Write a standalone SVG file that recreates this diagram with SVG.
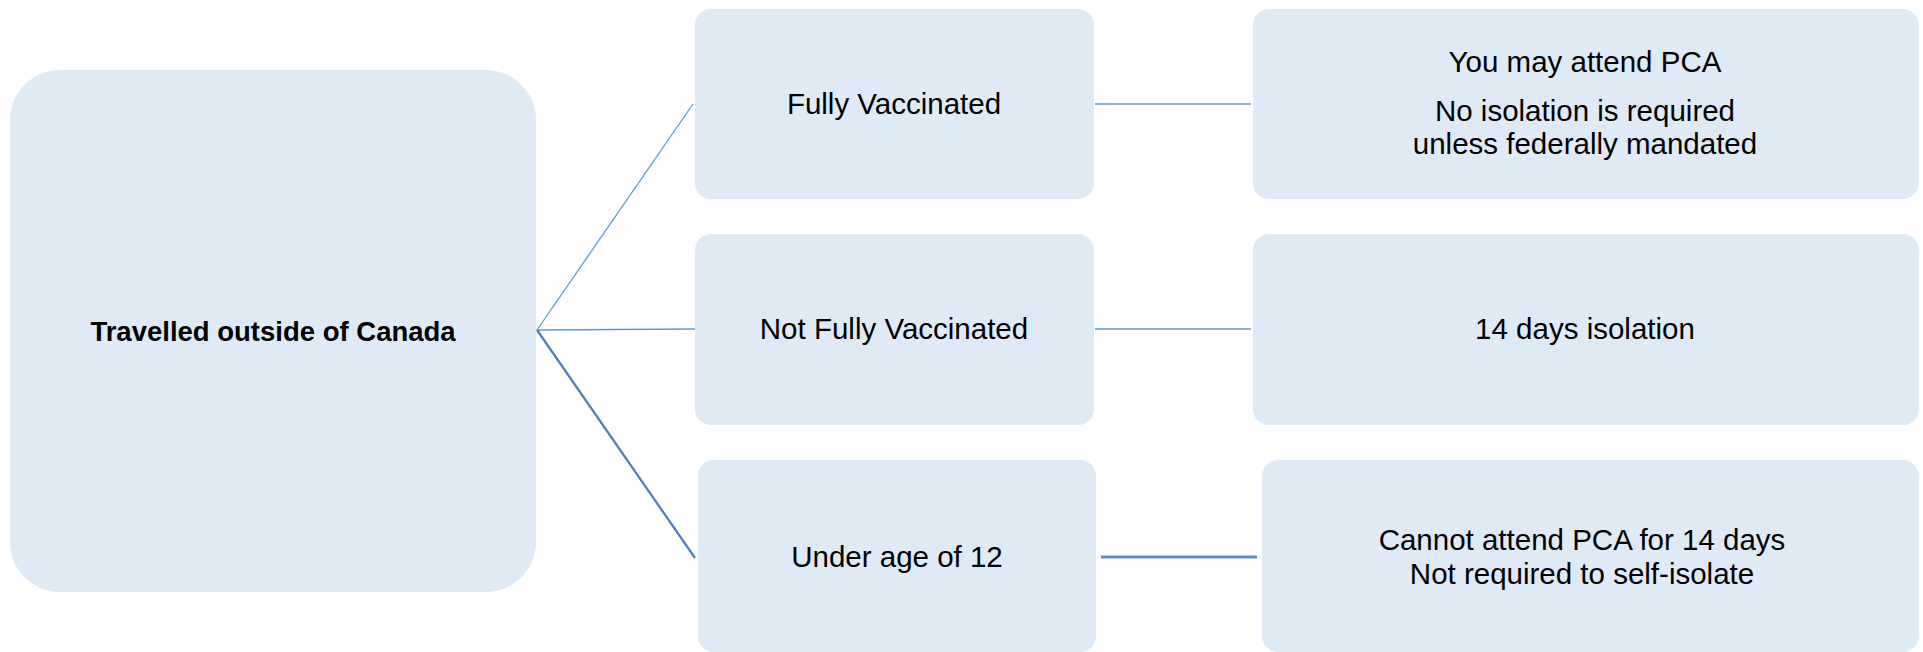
<svg xmlns="http://www.w3.org/2000/svg" width="1923" height="652" viewBox="0 0 1923 652">
<style>
.box{fill:#DEEAF6;}
.t{font-family:"Liberation Sans",Arial,sans-serif;font-size:29.5px;fill:#000;text-anchor:middle;}
.b{font-weight:bold;font-size:27.5px;}
.c1{stroke:#5B9BD5;stroke-width:1.3;fill:none;}
.c2{stroke:#4A7EBB;stroke-width:2.2;fill:none;}
.c3{stroke:#5B8FC7;stroke-width:3;fill:none;}
</style>
<rect width="1923" height="652" fill="#FFFFFF"/>
<g id="connectors">
<line class="c1" x1="537" y1="330" x2="693" y2="104"/>
<line class="c1" x1="537" y1="330" x2="695" y2="329"/>
<line class="c2" x1="537" y1="330" x2="695" y2="558"/>
<line class="c1" x1="1095" y1="104" x2="1251" y2="104"/>
<line class="c1" x1="1095" y1="329" x2="1251" y2="329"/>
<line class="c3" x1="1101" y1="557" x2="1257" y2="557"/>
</g>
<g id="travelled">
<rect class="box" x="10" y="70" width="526" height="522" rx="50"/>
<text class="t b" x="273" y="341">Travelled outside of Canada</text>
</g>
<g id="fully">
<rect class="box" x="695" y="9" width="399" height="190" rx="16"/>
<text class="t" x="894" y="114">Fully Vaccinated</text>
</g>
<g id="notfully">
<rect class="box" x="695" y="234" width="399" height="191" rx="16"/>
<text class="t" x="894" y="339">Not Fully Vaccinated</text>
</g>
<g id="under12">
<rect class="box" x="698" y="460" width="398" height="192" rx="16"/>
<text class="t" x="897" y="567">Under age of 12</text>
</g>
<g id="mayattend">
<rect class="box" x="1253" y="9" width="666" height="190" rx="16"/>
<text class="t" x="1585" y="72">You may attend PCA</text>
<text class="t" x="1585" y="121">No isolation is required</text>
<text class="t" x="1585" y="154">unless federally mandated</text>
</g>
<g id="isolation">
<rect class="box" x="1253" y="234" width="666" height="191" rx="16"/>
<text class="t" x="1585" y="339">14 days isolation</text>
</g>
<g id="cannot">
<rect class="box" x="1262" y="460" width="657" height="192" rx="16"/>
<text class="t" x="1582" y="550">Cannot attend PCA for 14 days</text>
<text class="t" x="1582" y="584">Not required to self-isolate</text>
</g>
</svg>
